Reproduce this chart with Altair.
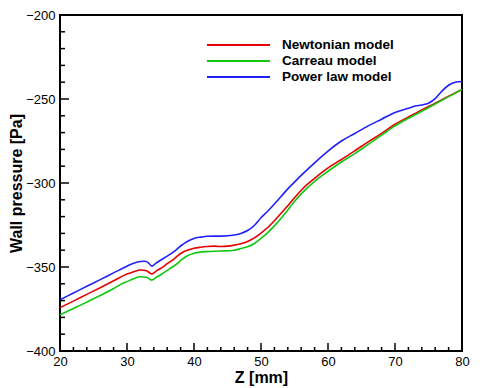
import altair as alt
import pandas as pd

models = ["Newtonian model", "Carreau model", "Power law model"]
colors = ["#e60000", "#10c810", "#2020ff"]

z_newt = [20, 22, 24, 26, 28, 29, 30, 31, 32, 32.9, 33.7, 34.5, 35.4, 36, 36.9, 37.5, 38.4, 39.2, 40, 41, 42, 43, 44,
          45, 46, 47, 48, 49, 50, 51, 52, 53, 54, 55, 56, 58, 60, 62, 64, 66, 68, 70, 72, 74, 76, 78, 80]
p_newt = [-374.2, -370.3, -366.3, -362.3, -358.2, -356.1, -354.2, -352.8, -351.8, -352.2, -354.1, -352, -349.9, -348,
          -345.6, -343.5, -341.1, -339.8, -338.8, -338.2, -337.8, -337.6, -337.8, -337.6, -337, -336.2, -334.8, -332.7,
          -329.8, -326.5, -322.5, -318, -313.5, -308.8, -304.3, -297.2, -291, -286, -280.8, -275.5, -270.5, -265,
          -260.7, -256.5, -252.5, -248.3, -244.3]

z_carr = [20, 22, 24, 26, 28, 29, 30, 31, 32, 32.9, 33.7, 34.5, 35.4, 36.4, 37.4, 38.2, 38.9, 40, 41, 42, 44, 46, 47,
          48, 49, 50, 51, 52, 53, 54, 55, 56, 58, 60, 62, 64, 66, 68, 70, 72, 74, 76, 78, 80]
p_carr = [-378.4, -374.7, -370.9, -367, -362.8, -360.5, -358.7, -357, -355.8, -356.1, -357.8, -355.8, -353.7, -351,
          -348.3, -345.5, -343.6, -341.8, -341.1, -340.8, -340.5, -340, -339, -338, -336, -333, -329.5, -325.5, -321,
          -316, -311, -306.5, -299, -293, -287.5, -282.5, -277, -271.5, -266, -261.5, -257.3, -253, -248.6, -244.3]

z_pow = [20, 22, 24, 26, 28, 30, 31, 32, 32.7, 33.2, 33.7, 34.3, 35, 36, 37, 38, 39, 40, 41, 42, 44, 46, 47, 48, 49,
         50, 51, 52, 53, 54, 55, 56, 58, 60, 62, 64, 66, 68, 70, 72, 73, 74, 75, 76, 77, 78, 79, 80]
p_pow = [-369.5, -365.5, -361.5, -357.5, -353.5, -349.5, -347.7, -346.7, -346.6, -347.5, -349.5, -347.8, -346, -343.5,
         -340.8, -337.5, -334.8, -333, -332.2, -331.7, -331.6, -331, -330, -328.3, -325.3, -320.7, -316.8, -312.5,
         -308, -303.5, -299.5, -295.5, -288, -281, -275, -270.5, -266, -262, -258, -255.5, -254.2, -253.6, -252.5,
         -249.8, -245.3, -241.8, -240, -239.6]

x_major = [20, 30, 40, 50, 60, 70, 80]
x_minor = [v for v in range(22, 80, 2) if v % 10 != 0]
y_major = [-400, -350, -300, -250, -200]
y_minor = [v for v in range(-390, -200, 10) if v % 50 != 0]

W, H = 402, 336
FONT = "Liberation Sans"

df = pd.concat([
    pd.DataFrame({"z": z_newt, "p": p_newt, "model": models[0], "k": 1}),
    pd.DataFrame({"z": z_carr, "p": p_carr, "model": models[1], "k": 0}),
    pd.DataFrame({"z": z_pow, "p": p_pow, "model": models[2], "k": 2}),
], ignore_index=True)

xscale = alt.Scale(domain=[20, 80], nice=False, zero=False)
yscale = alt.Scale(domain=[-400, -200], nice=False, zero=False)
xaxis = alt.Axis(values=x_major, title="Z [mm]", labelFlush=False, labelOverlap=False,
                 labelPadding=4, titlePadding=1, format="d")
yaxis = alt.Axis(values=y_major, title="Wall pressure [Pa]", labelOverlap=False,
                 labelPadding=5, titlePadding=1, format="d")

lines = alt.Chart(df).mark_line(strokeWidth=1.6, interpolate="monotone").encode(
    x=alt.X("z:Q", scale=xscale, axis=xaxis),
    y=alt.Y("p:Q", scale=yscale, axis=yaxis),
    color=alt.Color("model:N", scale=alt.Scale(domain=models, range=colors), legend=None),
    detail="k:N",
)

def xticks(vals, length):
    return alt.Chart(pd.DataFrame({"z": vals})).mark_rule(color="black", strokeWidth=1.5).encode(
        x=alt.X("z:Q", scale=xscale, axis=xaxis), y=alt.value(H), y2=alt.value(H - length))

def yticks(vals, length):
    return alt.Chart(pd.DataFrame({"p": vals})).mark_rule(color="black", strokeWidth=1.5).encode(
        y=alt.Y("p:Q", scale=yscale, axis=yaxis), x=alt.value(0), x2=alt.value(length))

layers = [lines, xticks(x_major, 8), xticks(x_minor, 4), yticks(y_major, 9), yticks(y_minor, 5)]

for i, (m, c) in enumerate(zip(models, colors)):
    ly = 30 + 16 * i
    seg = alt.Chart(pd.DataFrame({"m": [m]})).mark_rule(color=c, strokeWidth=1.8).encode(
        x=alt.value(147), x2=alt.value(210), y=alt.value(ly))
    txt = alt.Chart(pd.DataFrame({"m": [m]})).mark_text(
        align="left", baseline="middle", font=FONT, fontSize=13.5, fontWeight="bold", color="black"
    ).encode(x=alt.value(222), y=alt.value(ly), text="m:N")
    layers += [seg, txt]

chart = alt.layer(*layers).properties(
    width=W, height=H,
    autosize=alt.AutoSizeParams(type="none"),
    padding={"left": 52, "top": 7, "right": 10, "bottom": 36},
).configure_view(stroke="black", strokeWidth=2).configure_axis(
    labelFont=FONT, labelFontSize=13, labelColor="black",
    titleFont=FONT, titleFontSize=16, titleFontWeight="bold", titleColor="black",
    grid=False, ticks=False, domain=False,
)

chart.save("out.html", embed_options={"renderer": "svg", "actions": False})
